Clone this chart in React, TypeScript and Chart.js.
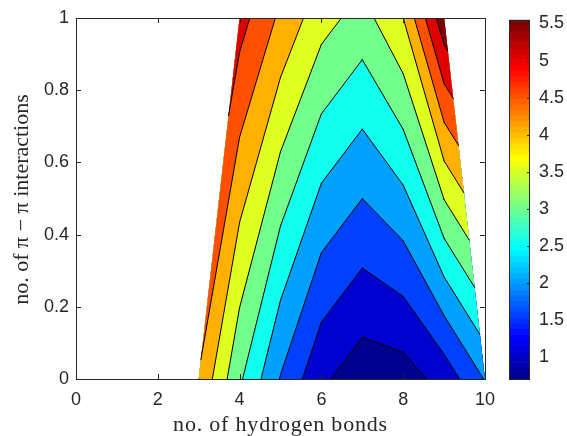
import { useEffect, useRef } from "react";
import { Chart, registerables } from "chart.js";

Chart.register(...registerables);

// Grid columns (hydrogen bonds) and rows (π–π interactions) of the surface
const hbondCols = [3, 4, 5, 6, 7, 8, 9, 10];
const piRows = [0, 1];
// Surface values along each row; NaN marks corners outside the sampled region
const zAtPi0 = [4.46, 3.08, 1.97, 1.09, 0.7, 0.76, 1.18, 2.03];
const zAtPi1 = [NaN, 5.2, 4.4, 3.69, 3.3, 4.0, 5.85, NaN];

const contourLevels = [1, 1.5, 2, 2.5, 3, 3.5, 4, 4.5, 5, 5.5];
// Fill colour of each band: below the first level, between levels, above the last
const bandColors = [
  "#00008f", "#0000cf", "#0040ff", "#00a0ff", "#10ffef", "#73ff8c",
  "#dfff20", "#ffb000", "#ff5000", "#df0000", "#800000",
];

const xTickValues = [0, 2, 4, 6, 8, 10];
const yTickValues = [0, 0.2, 0.4, 0.6, 0.8, 1];
const yTickLabels = ["0", "0.2", "0.4", "0.6", "0.8", "1"];
const cbTickValues = [1, 1.5, 2, 2.5, 3, 3.5, 4, 4.5, 5, 5.5];
const cbTickLabels = ["1", "1.5", "2", "2.5", "3", "3.5", "4", "4.5", "5", "5.5"];
const cbRange = [0.7, 5.55];

const xTitle = "no. of hydrogen bonds";
const yTitle = "no. of π − π interactions";

const AXIS_COLOR = "#262626";
const TICK_FONT = { family: "'Liberation Sans', Arial, sans-serif", size: 18 };
const TITLE_FONT = "22px 'Liberation Serif', 'Times New Roman', serif";

type P = { x: number; y: number; z: number };

function buildCells(): P[][] {
  const cells: P[][] = [];
  for (let i = 0; i < hbondCols.length - 1; i++) {
    const corners: P[] = [
      { x: hbondCols[i], y: piRows[0], z: zAtPi0[i] },
      { x: hbondCols[i + 1], y: piRows[0], z: zAtPi0[i + 1] },
      { x: hbondCols[i + 1], y: piRows[1], z: zAtPi1[i + 1] },
      { x: hbondCols[i], y: piRows[1], z: zAtPi1[i] },
    ].filter((p) => !Number.isNaN(p.z));
    if (corners.length >= 3) cells.push(corners);
  }
  return cells;
}

// Keep the part of a cell polygon where z >= level (linear along edges)
function clipAbove(poly: P[], level: number): P[] {
  const out: P[] = [];
  for (let i = 0; i < poly.length; i++) {
    const a = poly[i];
    const b = poly[(i + 1) % poly.length];
    const ia = a.z >= level;
    const ib = b.z >= level;
    if (ia) out.push(a);
    if (ia !== ib) {
      const t = (level - a.z) / (b.z - a.z);
      out.push({ x: a.x + t * (b.x - a.x), y: a.y + t * (b.y - a.y), z: level });
    }
  }
  return out;
}

function crossings(poly: P[], level: number): P[] {
  const pts: P[] = [];
  for (let i = 0; i < poly.length; i++) {
    const a = poly[i];
    const b = poly[(i + 1) % poly.length];
    if (a.z < level !== b.z < level) {
      const t = (level - a.z) / (b.z - a.z);
      pts.push({ x: a.x + t * (b.x - a.x), y: a.y + t * (b.y - a.y), z: level });
    }
  }
  return pts;
}

const contourPlugin = {
  id: "contourFill",
  beforeDatasetsDraw(chart: any) {
    const { ctx, chartArea, scales } = chart;
    const px = (p: P) => [scales.x.getPixelForValue(p.x), scales.y.getPixelForValue(p.y)];
    const cells = buildCells();
    ctx.save();
    ctx.beginPath();
    ctx.rect(chartArea.left, chartArea.top, chartArea.width, chartArea.height);
    ctx.clip();
    bandColors.forEach((color, k) => {
      ctx.beginPath();
      for (const cell of cells) {
        const poly = k === 0 ? cell : clipAbove(cell, contourLevels[k - 1]);
        if (poly.length < 3) continue;
        poly.forEach((p, i) => {
          const [x, y] = px(p);
          if (i === 0) ctx.moveTo(x, y);
          else ctx.lineTo(x, y);
        });
        ctx.closePath();
      }
      ctx.fillStyle = color;
      ctx.fill();
    });
    ctx.strokeStyle = "#000";
    ctx.lineWidth = 1;
    ctx.lineCap = "round";
    ctx.beginPath();
    for (const level of contourLevels) {
      for (const cell of cells) {
        const pts = crossings(cell, level);
        for (let m = 0; m + 1 < pts.length; m += 2) {
          const [x0, y0] = px(pts[m]);
          const [x1, y1] = px(pts[m + 1]);
          ctx.moveTo(x0, y0);
          ctx.lineTo(x1, y1);
        }
      }
    }
    ctx.stroke();
    ctx.restore();
  },
};

const boxPlugin = {
  id: "axesBox",
  afterDraw(chart: any) {
    const { ctx, chartArea, scales } = chart;
    const { left, right, top, bottom } = chartArea;
    const tl = 5;
    ctx.save();
    ctx.strokeStyle = AXIS_COLOR;
    ctx.lineWidth = 1;
    ctx.beginPath();
    for (const v of xTickValues) {
      const x = Math.round(scales.x.getPixelForValue(v)) + 0.5;
      ctx.moveTo(x, bottom);
      ctx.lineTo(x, bottom - tl);
      ctx.moveTo(x, top);
      ctx.lineTo(x, top + tl);
    }
    for (const v of yTickValues) {
      const y = Math.round(scales.y.getPixelForValue(v)) + 0.5;
      ctx.moveTo(left, y);
      ctx.lineTo(left + tl, y);
      ctx.moveTo(right, y);
      ctx.lineTo(right - tl, y);
    }
    ctx.stroke();
    ctx.strokeRect(Math.round(left) + 0.5, Math.round(top) + 0.5, Math.round(right - left), Math.round(bottom - top));

    // axis titles
    ctx.fillStyle = AXIS_COLOR;
    ctx.font = TITLE_FONT;
    ctx.textAlign = "center";
    ctx.textBaseline = "middle";
    (ctx as any).letterSpacing = "0.8px";
    ctx.fillText(xTitle, (left + right) / 2, 425);
    (ctx as any).letterSpacing = "0px";
    ctx.translate(22, (top + bottom) / 2 + 1);
    ctx.rotate(-Math.PI / 2);
    ctx.fillText(yTitle, 0, 0);
    ctx.restore();
  },
};

function jet64(j: number): string {
  const u = (k: number) => (k < 1 || k > 47 ? 0 : k <= 16 ? k / 16 : k <= 31 ? 1 : (48 - k) / 16);
  const c = (v: number) => Math.round(v * 255);
  return `rgb(${c(u(j - 24))},${c(u(j - 8))},${c(u(j + 8))})`;
}

const colorbarPlugin = {
  id: "colorbarFill",
  beforeDatasetsDraw(chart: any) {
    const { ctx, chartArea, scales } = chart;
    const s = scales.y;
    const span = cbRange[1] - cbRange[0];
    ctx.save();
    for (let j = 1; j <= 64; j++) {
      const y0 = s.getPixelForValue(cbRange[0] + ((j - 1) / 64) * span);
      const y1 = s.getPixelForValue(cbRange[0] + (j / 64) * span);
      ctx.fillStyle = jet64(j);
      ctx.fillRect(chartArea.left, y1, chartArea.width, y0 - y1 + 0.6);
    }
    ctx.restore();
  },
  afterDraw(chart: any) {
    const { ctx, chartArea, scales } = chart;
    const { left, right, top, bottom } = chartArea;
    ctx.save();
    ctx.strokeStyle = AXIS_COLOR;
    ctx.lineWidth = 1;
    ctx.beginPath();
    for (const v of cbTickValues) {
      const y = Math.round(scales.y.getPixelForValue(v)) + 0.5;
      ctx.moveTo(right, y);
      ctx.lineTo(right - 3, y);
    }
    ctx.stroke();
    ctx.strokeRect(Math.round(left) + 0.5, Math.round(top) + 0.5, Math.round(right - left) - 1, Math.round(bottom - top));
    ctx.restore();
  },
};

export default function App() {
  const mainRef = useRef<HTMLCanvasElement>(null);
  const cbRef = useRef<HTMLCanvasElement>(null);

  useEffect(() => {
    const main = new Chart(mainRef.current!, {
      type: "scatter",
      data: { datasets: [] },
      options: {
        animation: false,
        responsive: true,
        maintainAspectRatio: false,
        events: [],
        layout: { padding: { top: 18, right: 82, left: 0, bottom: 0 } },
        plugins: { legend: { display: false }, tooltip: { enabled: false } },
        scales: {
          x: {
            type: "linear",
            min: 0,
            max: 10,
            grid: { display: false, drawTicks: false },
            border: { display: false },
            afterBuildTicks: (s: any) => {
              s.ticks = xTickValues.map((v) => ({ value: v }));
            },
            afterFit: (s: any) => {
              s.height = 57;
            },
            ticks: { padding: 10, color: AXIS_COLOR, font: TICK_FONT, maxRotation: 0, autoSkip: false },
          },
          y: {
            type: "linear",
            min: 0,
            max: 1,
            grid: { display: false, drawTicks: false },
            border: { display: false },
            afterBuildTicks: (s: any) => {
              s.ticks = yTickValues.map((v) => ({ value: v }));
            },
            afterFit: (s: any) => {
              s.width = 76;
            },
            ticks: {
              padding: 7,
              color: AXIS_COLOR,
              font: TICK_FONT,
              autoSkip: false,
              callback: (v: any) => yTickLabels[yTickValues.indexOf(Number(v))] ?? String(v),
            },
          },
        },
      },
      plugins: [contourPlugin, boxPlugin],
    } as any);

    const cb = new Chart(cbRef.current!, {
      type: "scatter",
      data: { datasets: [] },
      options: {
        animation: false,
        responsive: true,
        maintainAspectRatio: false,
        events: [],
        layout: { padding: { top: 18, bottom: 57, left: 0, right: 0 } },
        plugins: { legend: { display: false }, tooltip: { enabled: false } },
        scales: {
          x: { display: false },
          y: {
            type: "linear",
            position: "right",
            min: cbRange[0],
            max: cbRange[1],
            grid: { display: false, drawTicks: false },
            border: { display: false },
            afterBuildTicks: (s: any) => {
              s.ticks = cbTickValues.map((v) => ({ value: v }));
            },
            afterFit: (s: any) => {
              s.width = 37;
            },
            ticks: {
              padding: 9,
              color: AXIS_COLOR,
              font: TICK_FONT,
              autoSkip: false,
              callback: (v: any) => cbTickLabels[cbTickValues.indexOf(Number(v))] ?? String(v),
            },
          },
        },
      },
      plugins: [colorbarPlugin],
    } as any);

    return () => {
      main.destroy();
      cb.destroy();
    };
  }, []);

  return (
    <div style={{ position: "fixed", left: 0, top: 0, width: 567, height: 436, background: "#fff" }}>
      <div style={{ position: "absolute", left: 0, top: 0, width: 567, height: 436 }}>
        <canvas ref={mainRef} />
      </div>
      <div style={{ position: "absolute", left: 509, top: 0, width: 58, height: 436 }}>
        <canvas ref={cbRef} />
      </div>
    </div>
  );
}
